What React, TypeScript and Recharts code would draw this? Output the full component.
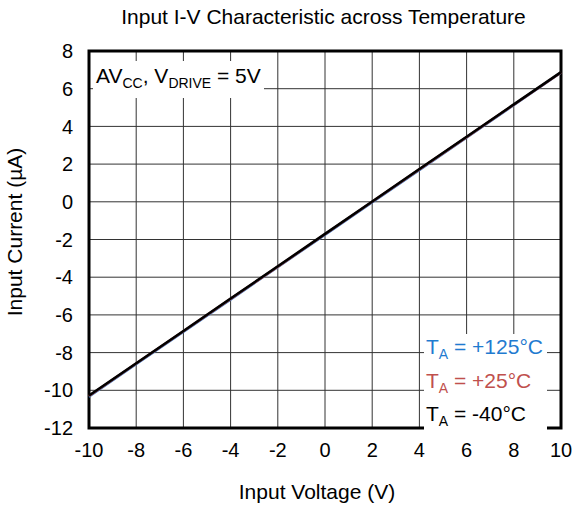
import React from "react";
import {
  LineChart,
  Line,
  XAxis,
  YAxis,
  CartesianGrid,
  ReferenceArea,
} from "recharts";

// Input voltage (V)
const voltages = [-10, -8, -6, -4, -2, 0, 2, 4, 6, 8, 10];
// Input current (µA) per temperature
const current125 = [-10.36, -8.64, -6.93, -5.21, -3.49, -1.78, -0.06, 1.66, 3.38, 5.1, 6.82];
const current25 = [-10.3, -8.58, -6.87, -5.15, -3.44, -1.72, 0.0, 1.72, 3.43, 5.15, 6.86];
const currentM40 = [-10.28, -8.56, -6.85, -5.13, -3.42, -1.7, 0.02, 1.74, 3.45, 5.17, 6.88];
const xTicks = [-10, -8, -6, -4, -2, 0, 2, 4, 6, 8, 10];
const yTicks = [-12, -10, -8, -6, -4, -2, 0, 2, 4, 6, 8];

const data = voltages.map((v, i) => ({
  v,
  t125: current125[i],
  t25: current25[i],
  tm40: currentM40[i],
}));

const FONT = "'Liberation Sans', Arial, sans-serif";

export default function App() {
  return (
    <div style={{ position: "absolute", left: 0, top: 0, width: 581, height: 507, fontFamily: FONT, background: "#fff" }}>
      <div style={{ position: "absolute", top: 5, left: 0, width: 647, textAlign: "center", fontSize: 21, color: "#000" }}>
        Input I-V Characteristic across Temperature
      </div>
      <LineChart width={581} height={507} data={data} margin={{ top: 51, right: 20, bottom: 0, left: 0 }}>
        <CartesianGrid stroke="#333" strokeWidth={1} />
        <XAxis
          dataKey="v"
          type="number"
          domain={[-10, 10]}
          ticks={xTicks}
          interval={0}
          height={79}
          tickSize={0}
          tickMargin={15}
          axisLine={false}
          tick={{ fill: "#000", fontSize: 20, fontFamily: FONT }}
        />
        <YAxis
          type="number"
          domain={[-12, 8]}
          ticks={yTicks}
          interval={0}
          width={89}
          tickSize={0}
          tickMargin={16}
          axisLine={false}
          tick={{ fill: "#000", fontSize: 20, fontFamily: FONT }}
        />
        <Line dataKey="t125" stroke="#1F7BD0" strokeWidth={1.5} dot={false} isAnimationActive={false} />
        <Line dataKey="t25" stroke="#C0504D" strokeWidth={2.5} dot={false} isAnimationActive={false} />
        <Line dataKey="tm40" stroke="#000" strokeWidth={2.5} dot={false} isAnimationActive={false} />
        <ReferenceArea x1={-10} x2={10} y1={-12} y2={8} fill="none" stroke="#000" strokeWidth={3} ifOverflow="visible" />
      </LineChart>
      {/* axis titles */}
      <div style={{ position: "absolute", left: 217, top: 480, width: 200, textAlign: "center", fontSize: 21, lineHeight: "24px" }}>
        Input Voltage (V)
      </div>
      <div
        style={{
          position: "absolute",
          left: 15 - 100,
          top: 232 - 12,
          width: 200,
          textAlign: "center",
          fontSize: 21,
          lineHeight: "24px",
          transform: "rotate(-90deg)",
          transformOrigin: "100px 12px",
        }}
      >
        Input Current (µA)
      </div>
      <div style={{ position: "absolute", left: 93, top: 61, fontSize: 21, color: "#000", background: "#fff", padding: "0 3px", lineHeight: "29px" }}>
        AV<sub style={{ fontSize: 14 }}>CC</sub>, V<sub style={{ fontSize: 14 }}>DRIVE</sub> = 5V
      </div>
      <div style={{ position: "absolute", left: 424, top: 334, fontSize: 21, background: "#fff", padding: "0 4px 0 2px", lineHeight: "26.5px" }}>
        <div style={{ color: "#1F7BD0" }}>T<sub style={{ fontSize: 14 }}>A</sub> = +125°C</div>
        <div style={{ color: "#C0504D" }}>T<sub style={{ fontSize: 14 }}>A</sub> = +25°C</div>
        <div style={{ color: "#000" }}>T<sub style={{ fontSize: 14 }}>A</sub> = -40°C</div>
      </div>
    </div>
  );
}
